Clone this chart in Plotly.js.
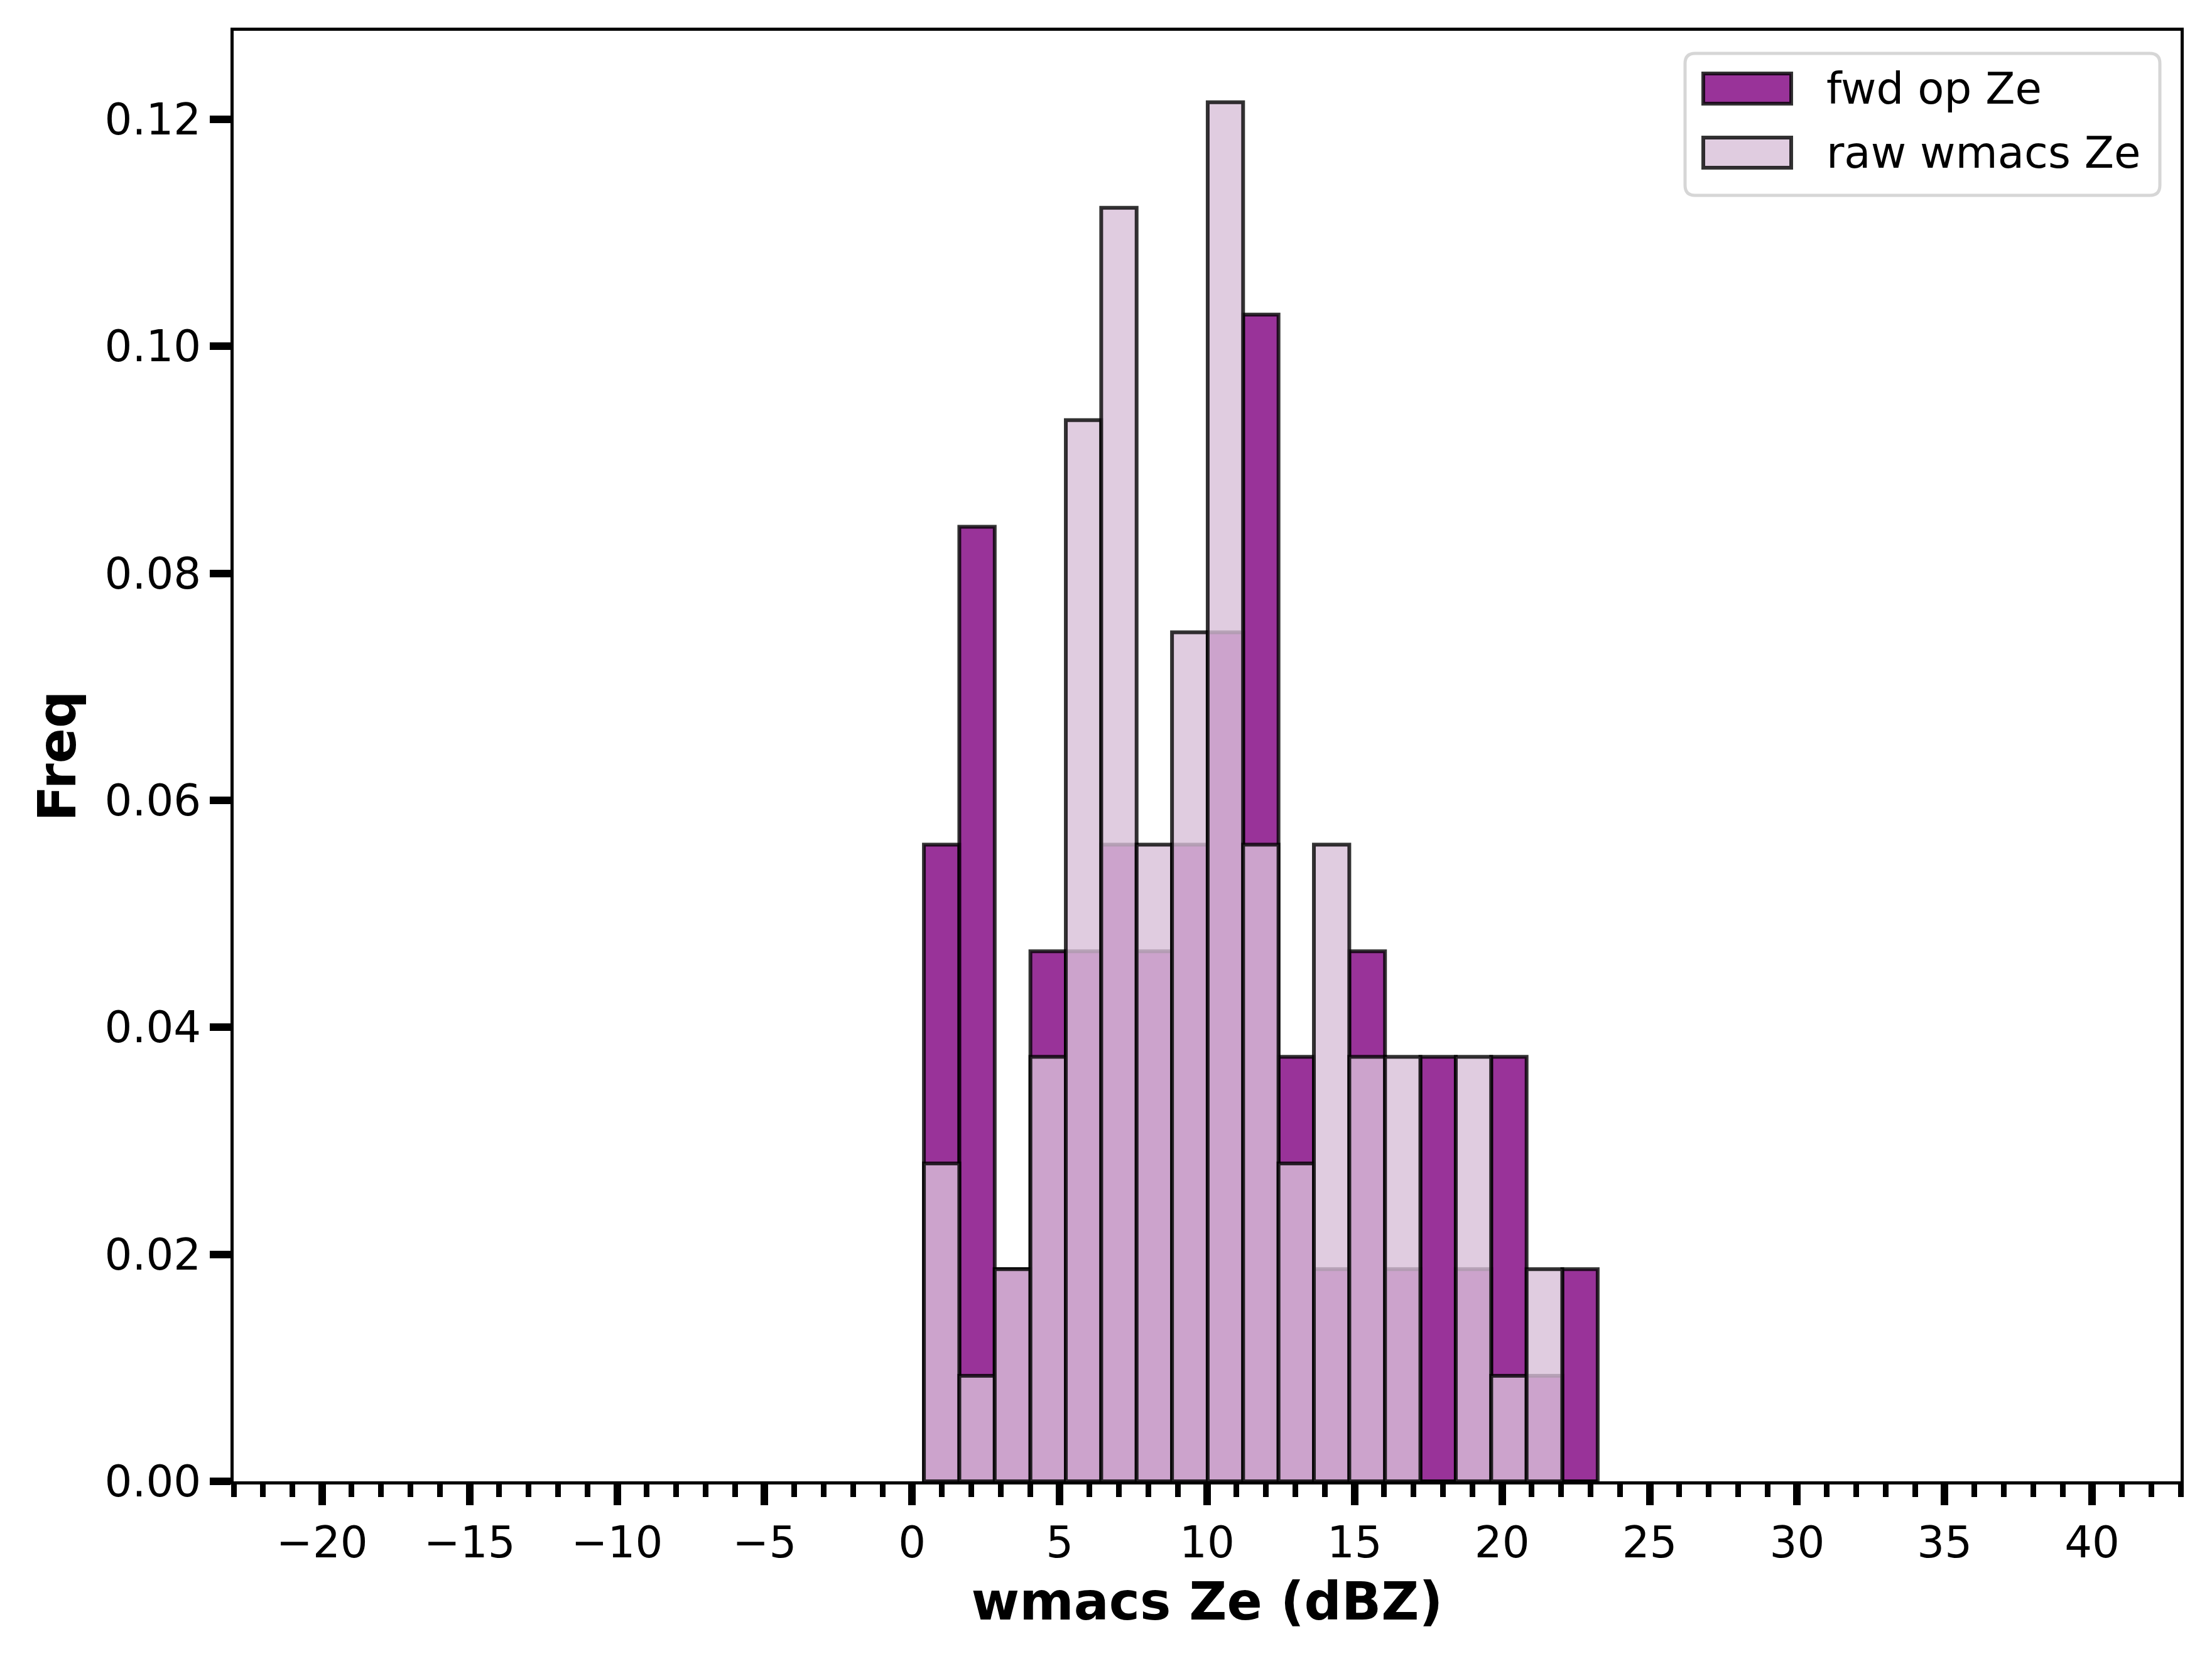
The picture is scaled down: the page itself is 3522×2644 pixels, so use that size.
<!DOCTYPE html>
<html>
<head>
<meta charset="utf-8">
<script src="https://cdn.plot.ly/plotly-3.0.1.min.js"></script>
<style>html,body{margin:0;padding:0;background:#fff;}#chart{width:3522px;height:2644px;}</style>
</head>
<body>
<div id="chart"></div>
<script>
// ---- data ----
const binEdges = [0.40, 1.60, 2.80, 4.01, 5.21, 6.41, 7.61, 8.81, 10.02, 11.22, 12.42,
                  13.62, 14.82, 16.03, 17.23, 18.43, 19.63, 20.83, 22.04, 23.24];
const fwdOpZe = [0.0561, 0.0841, 0.0187, 0.0467, 0.0467, 0.0561, 0.0467, 0.0561, 0.0748, 0.1028,
                 0.0374, 0.0187, 0.0467, 0.0187, 0.0374, 0.0187, 0.0374, 0.0093, 0.0187];
const rawWmacsZe = [0.0280, 0.0093, 0.0187, 0.0374, 0.0935, 0.1122, 0.0561, 0.0748, 0.1215, 0.0561,
                    0.0280, 0.0561, 0.0374, 0.0374, 0.0, 0.0374, 0.0093, 0.0187, 0.0];
const seriesNames = ["fwd op Ze", "raw wmacs Ze"];
const xTickVals = [-20, -15, -10, -5, 0, 5, 10, 15, 20, 25, 30, 35, 40];
const yTickVals = [0.00, 0.02, 0.04, 0.06, 0.08, 0.10, 0.12];
const xTitle = "wmacs Ze (dBZ)";
const yTitle = "Freq";

// ---- derived ----
const centers = binEdges.slice(0, -1).map((e, i) => (e + binEdges[i + 1]) / 2);
const widths = binEdges.slice(0, -1).map((e, i) => binEdges[i + 1] - e);

// ---- styles ----
const FONT = "DejaVu Sans";
const fwdFill = "rgba(128,0,128,0.8)";
const rawFill = "rgba(216,191,216,0.8)";
const edge = "rgba(0,0,0,0.8)";
const W = 3522, H = 2644;
const M = {l: 372, r: 50, t: 49, b: 286};
const PW = W - M.l - M.r, PH = H - M.t - M.b;
const px = x => (x - M.l) / PW;
const py = y => (H - M.b - y) / PH;

const traces = [
  {type: "bar", name: seriesNames[0], x: centers, y: fwdOpZe, width: widths,
   marker: {color: fwdFill, line: {color: edge, width: 6}}, showlegend: false},
  {type: "bar", name: seriesNames[1], x: centers, y: rawWmacsZe, width: widths,
   marker: {color: rawFill, line: {color: edge, width: 6}}, showlegend: false}
];

// custom matplotlib-like legend (layout decoration)
function roundRect(x0, y0, x1, y1, r) {
  const rx = r / PW, ry = r / PH;
  const X0 = px(x0), X1 = px(x1), Y0 = py(y0), Y1 = py(y1);
  return `M${X0 + rx},${Y0} L${X1 - rx},${Y0} Q${X1},${Y0} ${X1},${Y0 - ry} ` +
         `L${X1},${Y1 + ry} Q${X1},${Y1} ${X1 - rx},${Y1} L${X0 + rx},${Y1} ` +
         `Q${X0},${Y1} ${X0},${Y1 + ry} L${X0},${Y0 - ry} Q${X0},${Y0} ${X0 + rx},${Y0} Z`;
}
const legendRows = [141, 243];
const shapes = [
  {type: "path", xref: "paper", yref: "paper", path: roundRect(2683, 85, 3439, 311, 16),
   fillcolor: "rgba(255,255,255,0.8)", line: {color: "#d6d6d6", width: 5}, layer: "above"}
];
const patchFills = [fwdFill, rawFill];
legendRows.forEach((cy, i) => {
  shapes.push({type: "rect", xref: "paper", yref: "paper",
    x0: px(2712), x1: px(2852), y0: py(cy - 24), y1: py(cy + 24),
    fillcolor: patchFills[i], line: {color: edge, width: 6}, layer: "above"});
});
const annotations = legendRows.map((cy, i) => ({
  xref: "paper", yref: "paper", x: px(2906), y: py(cy), xanchor: "left", yanchor: "middle",
  text: seriesNames[i], showarrow: false, font: {family: FONT, size: 69, color: "#000"}
}));

const axisCommon = {
  ticks: "outside", ticklen: 33, tickwidth: 12, tickcolor: "#000",
  showline: true, linewidth: 5, linecolor: "#000", mirror: true,
  showgrid: false, zeroline: false,
  tickfont: {family: FONT, size: 69, color: "#000"}
};

const layout = {
  width: W, height: H, autosize: false,
  margin: M,
  paper_bgcolor: "#fff", plot_bgcolor: "#fff",
  barmode: "overlay", bargap: 0,
  font: {family: FONT, color: "#000"},
  xaxis: Object.assign({}, axisCommon, {
    range: [-23, 43], tickmode: "array", tickvals: xTickVals,
    minor: {dtick: 1, tick0: 0, ticks: "outside", ticklen: 20, tickwidth: 9, tickcolor: "#000", showgrid: false},
    title: {text: xTitle, font: {family: FONT, size: 83, weight: "bold", color: "#000"}, standoff: 28}
  }),
  yaxis: Object.assign({}, axisCommon, {
    range: [0, 0.1278], tickmode: "array", tickvals: yTickVals, tickformat: ".2f",
    title: {text: yTitle, font: {family: FONT, size: 83, weight: "bold", color: "#000"}, standoff: 20}
  }),
  shapes: shapes,
  annotations: annotations
};

Plotly.newPlot("chart", traces, layout, {staticPlot: true, displayModeBar: false});
</script>
</body>
</html>
